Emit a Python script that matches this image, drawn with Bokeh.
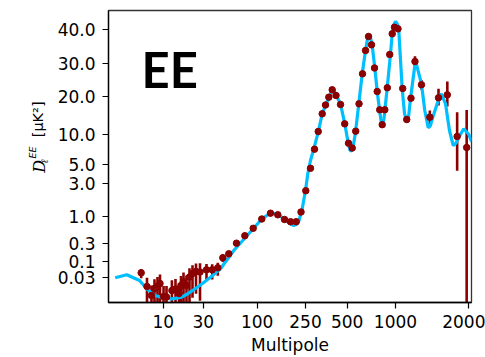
import numpy as np
from bokeh.plotting import figure
from bokeh.layouts import row
from bokeh.models import FixedTicker, Range1d, Label
from bokeh.embed import file_html
from bokeh.resources import INLINE

# ---- axis scales (stretched multipole axis, compressed amplitude axis) ----
# tick values and their place along the axis, 0 = lower/left edge, 1 = upper/right edge
X_SCALE_ELL = [2, 10, 30, 100, 250, 500, 1000, 2000]
X_SCALE_POS = [0.01846, 0.15069, 0.26088, 0.40964, 0.54270, 0.65758, 0.79063, 0.99091]
Y_SCALE_DL = [0.03, 0.1, 0.3, 1, 3, 5, 10, 20, 30, 40]
Y_SCALE_POS = [0.08459, 0.14144, 0.20103, 0.29452, 0.40856, 0.47260, 0.57432, 0.70651, 0.81747, 0.93493]

X_TICKS = [10, 30, 100, 250, 500, 1000, 2000]
X_TICK_LABELS = ["10", "30", "100", "250", "500", "1000", "2000"]
Y_TICKS = [0.03, 0.1, 0.3, 1.0, 3.0, 5.0, 10.0, 20.0, 30.0, 40.0]
Y_TICK_LABELS = ["0.03", "0.1", "0.3", "1.0", "3.0", "5.0", "10.0", "20.0", "30.0", "40.0"]

# ---- best-fit EE model spectrum ----
theory_ell = [2, 2.95, 4.52, 5.91, 7.64, 10.1, 12.7, 16.1, 19.5, 24.3, 29.4, 35.3, 44.1,
              59.3, 80, 106.5, 118.2, 128.7, 146.1, 171.1, 188.1, 200.2, 212.8, 221,
              234.9, 250, 259.7, 271.6, 287, 308.9, 330, 348.6, 368.3, 381, 393.6, 405,
              416.5, 447.3, 480.4, 507.3, 520, 531.9, 545, 563.3, 590.6, 620.2, 650.4,
              667, 681.9, 698, 715.9, 743, 769.1, 795, 812, 829.8, 848, 887.9, 930.8,
              953.9, 976, 1000, 1016, 1032, 1066, 1090, 1118, 1135, 1153.5, 1210, 1281,
              1322, 1366, 1395, 1427, 1511, 1550, 1611, 1673, 1734, 1780, 1828, 1918,
              2012, 2064]
theory_dl = [0.030, 0.0376, 0.0247, 0.0128, 0.0083, 0.0069, 0.0065, 0.0072, 0.0093, 0.0138,
             0.0198, 0.0313, 0.0576, 0.197, 0.433, 0.838, 1.017, 1.115, 1.086, 0.865,
             0.718, 0.672, 0.718, 0.838, 1.289, 2.358, 3.878, 5.49, 7.21, 10.48, 14.58,
             16.93, 19.44, 20.8, 21.48, 21.2, 20.18, 17.45, 12.18, 8.22, 7.0, 6.82, 7.6,
             10.48, 17.45, 26.47, 33.55, 36.6, 38.04, 37.4, 34.98, 28.54, 21.21, 15.67,
             12.9, 11.82, 13.4, 22.22, 32.63, 38.59, 41.6, 42.78, 42.0, 39.67, 21.94,
             14.6, 12.54, 14.3, 19.09, 30.83, 23.35, 15.47, 11.34, 11.8, 13.72, 19.09,
             20.61, 17.45, 10.8, 7.79, 8.2, 9.46, 11.14, 10.05, 8.55]

# ---- measured band powers ----
data_ell = [4.78, 5.81, 6.75, 7.47, 8.26, 8.98, 10.1, 10.95, 12.7, 14.02, 15.44, 16.31,
            17.47, 18.96, 20.59, 22.36, 24.62, 27.48, 32.29, 36.66, 41.54, 46.45, 53.09,
            63.0, 75.9, 91.5, 109.1, 128.7, 147.8, 167.9, 188.1, 209.6, 229.6, 251.2,
            271.6, 290.4, 308.9, 330.0, 348.6, 368.3, 389.6, 415.1, 447.3, 479.6, 509.5,
            537.3, 564.9, 592.4, 622.9, 650.4, 679.0, 708.8, 739.9, 769.1, 797.3, 826.4,
            857.8, 889.2, 920.3, 953.9, 985.8, 1024, 1071, 1113, 1159, 1204, 1281, 1387,
            1507, 1639, 1800, 1971]
data_dl = [0.043, 0.016, 0.0083, 0.0138, 0.016, 0.0198, 0.0077, 0.0075, 0.0119, 0.0133,
           0.0096, 0.0172, 0.0229, 0.0172, 0.0318, 0.041, 0.0474, 0.0457, 0.0536, 0.0536,
           0.0619, 0.124, 0.1596,
           0.308, 0.4287, 0.5943, 0.8956, 1.115, 1.058, 0.8761, 0.7951, 0.7951, 1.160,
           2.342, 4.507, 7.146, 10.61, 14.58, 17.08, 19.65, 21.67, 20.18, 17.23, 12.18,
           8.22, 7.35, 10.67, 17.45, 26.47, 33.55, 37.72, 35.18, 28.47, 21.21, 15.67,
           11.99, 15.67, 22.22, 32.43, 38.59, 40.77, 40.23, 22.03, 13.16, 19.29, 30.58,
           23.09, 13.72, 19.44, 20.35, 9.61, 7.43]
data_err = [0.014, 0.014, 0.009, 0.013, 0.016, 0.018, 0.009, 0.009, 0.013, 0.014,
            0.011, 0.017, 0.021, 0.018, 0.028, 0.034, 0.038, 0.040, 0.028, 0.027,
            0.027, 0.030, 0.030,
            0.02, 0.02, 0.02, 0.03, 0.03, 0.03, 0.03, 0.03, 0.03, 0.04,
            0.07, 0.12, 0.18, 0.25, 0.3, 0.35, 0.4, 0.4, 0.4, 0.4, 0.35,
            0.3, 0.3, 0.35, 0.45, 0.6, 0.7, 0.8, 0.8, 0.8, 0.7, 0.6,
            0.6, 0.6, 0.7, 0.9, 1.0, 1.0, 1.1, 0.7, 0.7, 0.9, 1.35,
            1.4, 1.75, 2.5, 3.7, 5.4, 8.2]


def log_axis_map(values, positions):
    """Piecewise log-linear mapping from physical values to axis position."""
    lv = np.log10(np.asarray(values, float))
    pv = np.asarray(positions, float)
    lo_slope = (pv[1] - pv[0]) / (lv[1] - lv[0])
    hi_slope = (pv[-1] - pv[-2]) / (lv[-1] - lv[-2])

    def f(v):
        lx = np.log10(np.maximum(np.asarray(v, float), 1e-6))
        out = np.interp(lx, lv, pv)
        out = np.where(lx < lv[0], pv[0] + (lx - lv[0]) * lo_slope, out)
        out = np.where(lx > lv[-1], pv[-1] + (lx - lv[-1]) * hi_slope, out)
        return out
    return f


fx = log_axis_map(X_SCALE_ELL, X_SCALE_POS)
fy = log_axis_map(Y_SCALE_DL, Y_SCALE_POS)

H = 357
LABEL_W = 50          # strip holding the vertical axis title
MAIN_W = 435
LEFT, RIGHT, TOP, BOTTOM = 58, 14, 10, 55

p = figure(width=MAIN_W, height=H, output_backend="svg", toolbar_location=None,
           x_range=Range1d(0, 1), y_range=Range1d(0, 1),
           min_border_left=LEFT, min_border_right=RIGHT,
           min_border_top=TOP, min_border_bottom=BOTTOM,
           background_fill_color="white", border_fill_color="white")
p.xgrid.visible = False
p.ygrid.visible = False
p.outline_line_color = "#333333"
p.outline_line_width = 1.3

# axes
x_pos = [round(float(v), 6) for v in fx(X_TICKS)]
y_pos = [round(float(v), 6) for v in fy(Y_TICKS)]
p.xaxis.ticker = FixedTicker(ticks=x_pos)
p.yaxis.ticker = FixedTicker(ticks=y_pos)
p.xaxis.major_label_overrides = dict(zip(x_pos, X_TICK_LABELS))
p.yaxis.major_label_overrides = dict(zip(y_pos, Y_TICK_LABELS))
for ax in (p.xaxis[0], p.yaxis[0]):
    ax.minor_tick_line_color = None
    ax.major_tick_in = 0
    ax.major_tick_out = 6
    ax.major_tick_line_width = 1.2
    ax.axis_line_width = 1.3
    ax.axis_line_color = "black"
    ax.major_tick_line_color = "black"
    ax.major_label_text_font = "DejaVu Sans"
    ax.major_label_text_font_size = "17px"
    ax.major_label_text_color = "black"
p.xaxis.major_label_standoff = 6
p.yaxis.major_label_standoff = 7
p.xaxis.axis_label = "Multipole"
p.xaxis.axis_label_text_font = "DejaVu Sans"
p.xaxis.axis_label_text_font_size = "17px"
p.xaxis.axis_label_text_font_style = "normal"
p.xaxis.axis_label_text_color = "black"
p.xaxis.axis_label_standoff = 4

# error bars, model curve, band powers
ell_pos = fx(data_ell)
dl = np.asarray(data_dl)
err = np.asarray(data_err)
p.segment(x0=ell_pos, y0=fy(dl - err), x1=ell_pos, y1=fy(dl + err),
          line_color="#8b0000", line_width=2.6)
p.line(fx(theory_ell), fy(theory_dl), line_color="#00bfff", line_width=3.2)
p.scatter(ell_pos, fy(dl), size=6.5, fill_color="#8b0000", line_color="#8b0000")

# panel title
p.add_layout(Label(x=33, y=234, x_units="screen", y_units="screen", text="EE",
                   text_font="Lato", text_font_style="bold",
                   text_font_size="49px", text_baseline="alphabetic",
                   text_color="black"))

# vertical axis title, built from pieces: D_ell^EE [muK^2]
ylab_fig = figure(width=LABEL_W, height=H, output_backend="svg", toolbar_location=None,
                  x_range=Range1d(0, LABEL_W), y_range=Range1d(0, H),
                  x_axis_type=None, y_axis_type=None,
                  min_border_left=0, min_border_right=0, min_border_top=0,
                  min_border_bottom=0, outline_line_color=None,
                  background_fill_color="white", border_fill_color="white")
ylab_fig.xgrid.visible = False
ylab_fig.ygrid.visible = False
rot = np.pi / 2
ylab = [
    dict(x=39.1, y=158.7, text="D", size="16px", style="italic", font="DejaVu Serif"),
    dict(x=43.5, y=170.0, text="ℓ", size="10px", style="italic", font="DejaVu Serif"),
    dict(x=32.2, y=176.0, text="EE", size="9.5px", style="italic", font="DejaVu Sans"),
    dict(x=37.4, y=202.0, text="[μK²]", size="14.5px", style="normal", font="DejaVu Sans"),
]
for d in ylab:
    ylab_fig.add_layout(Label(x=d["x"], y=d["y"], text=d["text"], angle=rot,
                              text_font=d["font"], text_font_style=d["style"],
                              text_font_size=d["size"], text_baseline="alphabetic",
                              text_align="left", text_color="black"))

layout = row(ylab_fig, p, spacing=0)
open("out.html", "w").write(file_html(layout, INLINE))
